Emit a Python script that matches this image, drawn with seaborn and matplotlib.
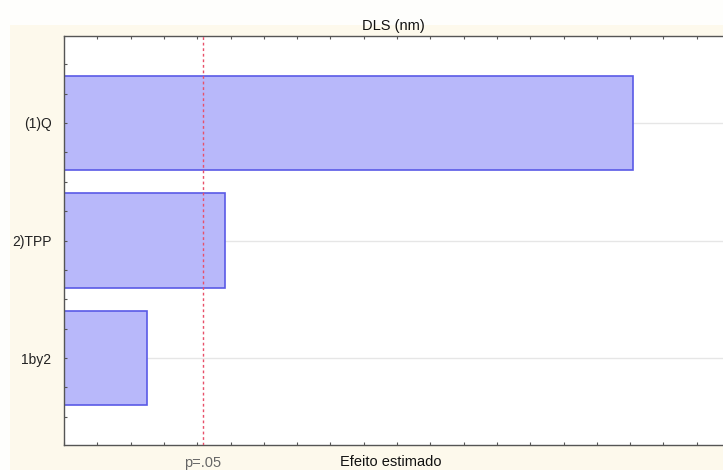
import matplotlib
matplotlib.use("Agg")
import matplotlib.pyplot as plt
import seaborn as sns
import pandas as pd
import numpy as np
from matplotlib.ticker import MultipleLocator, NullFormatter, FixedLocator
from matplotlib.patches import Rectangle

# Data
factors = ["(1)Q", "2)TPP", "1by2"]
effects = [17.1, 4.83, 2.49]
p_crit = 4.17
title = "DLS (nm)"
xlabel = "Efeito estimado"
p_label = "p=.05"

df = pd.DataFrame({"factor": factors, "effect": effects})

sns.set_theme(style="white")
plt.rcParams["font.family"] = ["Liberation Sans", "DejaVu Sans"]

fig = plt.figure(figsize=(7.23, 4.70), dpi=100, facecolor="#fefefc")
fig.patches.append(Rectangle((10/723, 0), 1, 1 - 25/470, transform=fig.transFigure,
                             facecolor="#fdf9ec", edgecolor="none", zorder=-10))
ax = fig.add_axes([64/723, 25/470, 1 - 64/723, (445-36)/470])
ax.set_facecolor("white")

sns.barplot(data=df, x="effect", y="factor", orient="h", width=0.8,
            color="#b8b8fa", edgecolor="#5a5ae6", linewidth=1.2,
            saturation=1, ax=ax, zorder=2)
ax.set_axisbelow(False)

# horizontal gridlines at category centres
for i in range(len(factors)):
    ax.axhline(i, color="#e6e6e6", lw=1, zorder=1)

ax.axvline(p_crit, color="#e8506a", lw=1, ls=(0, (2, 2)), zorder=4)

ax.set_xlim(0, (723-64)/33.3)
ax.set_ylim(2.74, -0.74)

ax.xaxis.set_major_locator(MultipleLocator(1))
ax.xaxis.set_major_formatter(NullFormatter())
ax.tick_params(axis="x", which="both", direction="in", length=2.5, width=0.8,
               top=True, bottom=True, color="#555555")
ax.set_yticks(range(len(factors)))
ax.set_yticklabels(factors)
ax.yaxis.set_minor_locator(FixedLocator(np.arange(-0.5, 2.75, 0.25)))
ax.tick_params(axis="y", which="both", direction="in", length=2.5, width=0.8,
               left=True, color="#555555")
ax.tick_params(axis="y", which="major", labelsize=10, pad=9)
for lab in ax.get_yticklabels():
    lab.set_color("#222222")

for side in ["left", "bottom", "top"]:
    ax.spines[side].set_color("#555555")
    ax.spines[side].set_linewidth(1.0)
ax.spines["right"].set_visible(False)

ax.set_xlabel("")
ax.set_ylabel("")
ax.set_title(title, fontsize=10.5, color="#111111", pad=4)

fig.text(391/723, 1 - 462/470, xlabel, ha="center", va="center",
         fontsize=10.5, color="#111111")
ax.text(p_crit, -0.043, p_label, transform=ax.get_xaxis_transform(),
        ha="center", va="center", fontsize=10.5, color="#666666")

fig.savefig("out.png", dpi=100, facecolor=fig.get_facecolor())
